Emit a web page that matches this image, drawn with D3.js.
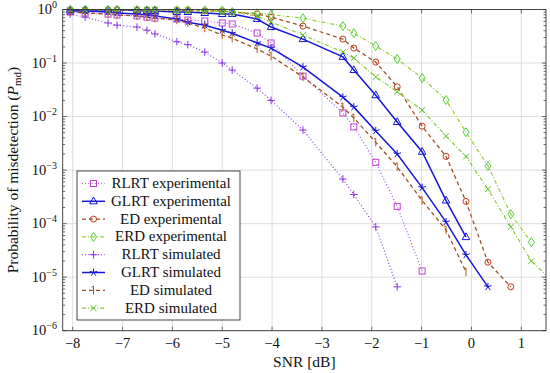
<!DOCTYPE html>
<html>
<head>
<meta charset="utf-8">
<script src="https://cdn.jsdelivr.net/npm/d3@7"></script>
<style>
  body { margin: 0; background: #fff; }
  text { font-family: "Liberation Serif", "DejaVu Serif", serif; fill: #111; }
</style>
</head>
<body>
<svg id="chart" width="550" height="373"></svg>
<script>
// SNR points (dB) where the curves were measured / simulated
const snr = [-8.05, -7.75, -7.29, -7.11, -6.71, -6.51, -6.35, -5.91, -5.69, -5.35, -5.0, -4.8,
             -4.3, -4.02, -3.38, -2.58, -2.36, -1.92, -1.49, -0.99, -0.51, -0.11, 0.33, 0.79, 1.2, 1.65];

// probability of misdetection per detector
const rlrtExp = [0.90, 0.86, 0.82, 0.79, 0.76, 0.72, 0.69, 0.665, 0.636, 0.61, 0.56, 0.536,
                 0.364, 0.237, 0.057, 0.0117, 0.0064, 0.0014, 2.1e-4, 1.3e-5];
const glrtExp = [0.98, 0.98, 0.98, 0.98, 0.957, 0.937, 0.937, 0.898, 0.898, 0.86, 0.824, 0.824,
                 0.665, 0.47, 0.28, 0.13, 0.074, 0.025, 0.0079, 0.0022, 2.7e-4, 5.6e-5];
const edExp   = [0.99, 0.99, 0.99, 0.99, 0.98, 0.98, 0.98, 0.96, 0.96, 0.94, 0.937, 0.898,
                 0.824, 0.72, 0.49, 0.28, 0.19, 0.104, 0.036, 0.0066, 0.0018, 2.6e-4, 1.9e-5, 6.6e-6];
const erdExp  = [0.99, 0.99, 0.99, 0.99, 0.99, 0.99, 0.99, 0.99, 0.99, 0.98, 0.96, 0.90,
                 0.85, 0.80, 0.69, 0.49, 0.36, 0.208, 0.119, 0.0525, 0.0204, 0.0051, 0.0012, 1.5e-4, 4.5e-5];
const rlrtSim = [0.82, 0.72, 0.56, 0.51, 0.47, 0.41, 0.35, 0.25, 0.22, 0.16, 0.10, 0.074,
                 0.034, 0.020, 0.0056, 6.8e-4, 3.5e-4, 8.7e-5, 6.6e-6];
const glrtSim = [0.94, 0.94, 0.90, 0.86, 0.82, 0.79, 0.76, 0.665, 0.58, 0.51, 0.41, 0.36,
                 0.237, 0.19, 0.084, 0.023, 0.015, 0.0054, 0.002, 4.7e-4, 1.07e-4, 2.6e-5, 6.6e-6];
const edSim   = [0.898, 0.86, 0.824, 0.79, 0.76, 0.72, 0.69, 0.636, 0.56, 0.45, 0.334, 0.29,
                 0.183, 0.135, 0.055, 0.015, 0.0094, 0.0033, 0.00115, 2.7e-4, 7.6e-5, 1.25e-5];
const erdSim  = [0.99, 0.99, 0.99, 0.99, 0.99, 0.98, 0.98, 0.96, 0.95, 0.94, 0.92, 0.898,
                 0.756, 0.584, 0.334, 0.16, 0.124, 0.055, 0.029, 0.0132, 0.0043, 0.0018, 4.4e-4, 8.7e-5, 2.0e-5, 8e-6];

const xTicks = [-8, -7, -6, -5, -4, -3, -2, -1, 0, 1];
const yExps = [0, -1, -2, -3, -4, -5, -6];

const series = [
  { name: "RLRT experimental", values: rlrtExp, line: "#a650e0", dash: "1,2.2", w: 1.2, mark: "square", mc: "#c040d0" },
  { name: "GLRT experimental", values: glrtExp, line: "#1616d8", dash: null, w: 1.5, mark: "triangle", mc: "#1616d8" },
  { name: "ED experimental", values: edExp, line: "#9a5228", dash: "4,3", w: 1.3, mark: "circle", mc: "#c23a18" },
  { name: "ERD experimental", values: erdExp, line: "#9ccc3a", dash: "4,2,1,2", w: 1.2, mark: "diamond", mc: "#4fd23a" },
  { name: "RLRT simulated", values: rlrtSim, line: "#8a40e6", dash: "1,2.2", w: 1.2, mark: "plus", mc: "#8a34e8" },
  { name: "GLRT simulated", values: glrtSim, line: "#1616d8", dash: null, w: 1.5, mark: "star", mc: "#1616d8" },
  { name: "ED simulated", values: edSim, line: "#9a5228", dash: "4,3", w: 1.3, mark: "bar", mc: "#b05a1c" },
  { name: "ERD simulated", values: erdSim, line: "#8cc83c", dash: "4,2,1,2", w: 1.2, mark: "cross", mc: "#62c030" }
];

const svg = d3.select("#chart");
const margin = { top: 9.5, right: 4, bottom: 42.3, left: 62.7 };
const W = 550, H = 373;
const x = d3.scaleLinear().domain([-8.2, 1.495]).range([margin.left, W - margin.right]);
const y = d3.scaleLog().domain([1e-6, 1]).range([H - margin.bottom, margin.top]);
const x0 = x.range()[0], x1 = x.range()[1], y0 = y.range()[0], y1 = y.range()[1];

// grid
const grid = svg.append("g").attr("stroke", "#d6d6d6").attr("stroke-width", 0.8);
xTicks.forEach(t => grid.append("line").attr("x1", x(t)).attr("x2", x(t)).attr("y1", y1).attr("y2", y0));
yExps.forEach(e => grid.append("line").attr("x1", x0).attr("x2", x1).attr("y1", y(Math.pow(10, e))).attr("y2", y(Math.pow(10, e))));

// ticks
const ticks = svg.append("g").attr("stroke", "#333").attr("stroke-width", 0.7);
xTicks.forEach(t => {
  ticks.append("line").attr("x1", x(t)).attr("x2", x(t)).attr("y1", y0).attr("y2", y0 - 4);
  ticks.append("line").attr("x1", x(t)).attr("x2", x(t)).attr("y1", y1).attr("y2", y1 + 4);
});
yExps.forEach(e => {
  const yy = y(Math.pow(10, e));
  ticks.append("line").attr("x1", x0).attr("x2", x0 + 4).attr("y1", yy).attr("y2", yy);
  ticks.append("line").attr("x1", x1).attr("x2", x1 - 4).attr("y1", yy).attr("y2", yy);
  if (e < 0) {
    for (let m = 2; m <= 9; m++) {
      const ym = y(m * Math.pow(10, e));
      ticks.append("line").attr("x1", x0).attr("x2", x0 + 2.5).attr("y1", ym).attr("y2", ym);
      ticks.append("line").attr("x1", x1).attr("x2", x1 - 2.5).attr("y1", ym).attr("y2", ym);
    }
  }
});

// curves
svg.append("clipPath").attr("id", "plotclip").append("rect")
  .attr("x", x0).attr("y", y1 - 4).attr("width", x1 - x0).attr("height", y0 - y1 + 4);
const plot = svg.append("g").attr("clip-path", "url(#plotclip)");

const line = d3.line().x(d => x(d[0])).y(d => y(d[1]));

function drawMark(g, type, color) {
  g.attr("stroke", color).attr("fill", "none").attr("stroke-width", 1);
  if (type === "square") g.append("rect").attr("x", -3).attr("y", -3).attr("width", 6).attr("height", 6);
  else if (type === "triangle") g.append("path").attr("d", "M0,-4.3L3.8,2.5L-3.8,2.5Z");
  else if (type === "circle") g.append("circle").attr("r", 3);
  else if (type === "diamond") g.append("path").attr("d", "M0,-4.5L3,0L0,4.5L-3,0Z");
  else if (type === "plus") g.append("path").attr("d", "M-3.8,0H3.8M0,-3.8V3.8");
  else if (type === "cross") g.append("path").attr("d", "M-3,-3L3,3M-3,3L3,-3");
  else if (type === "bar") g.append("path").attr("d", "M0,-4.2V4.2M0,-4.2L-2,-3");
  else if (type === "star") {
    let d = "";
    for (let k = 0; k < 5; k++) {
      const a = -Math.PI / 2 + k * 2 * Math.PI / 5;
      d += "M0,0L" + (4 * Math.cos(a)).toFixed(2) + "," + (4 * Math.sin(a)).toFixed(2);
    }
    g.append("path").attr("d", d);
  }
}

series.forEach(s => {
  const pts = s.values.map((v, i) => [snr[i], v]);
  plot.append("path").datum(pts)
    .attr("d", line).attr("fill", "none")
    .attr("stroke", s.line).attr("stroke-width", s.w)
    .attr("stroke-dasharray", s.dash);
  s.pts = pts;
});
series.forEach(s => {
  s.pts.forEach(p => {
    if (p[0] > 1.5) return;
    const g = plot.append("g").attr("transform", "translate(" + x(p[0]) + "," + y(p[1]) + ")");
    drawMark(g, s.mark, s.mc);
  });
});

// frame
svg.append("rect").attr("x", x0).attr("y", y1).attr("width", x1 - x0).attr("height", y0 - y1)
  .attr("fill", "none").attr("stroke", "#333").attr("stroke-width", 0.9);

// tick labels
xTicks.forEach(t => {
  svg.append("text").attr("x", x(t)).attr("y", 348).attr("text-anchor", "middle")
    .attr("font-size", 14.5).text(t < 0 ? "\u2212" + Math.abs(t) : String(t));
});
yExps.forEach(e => {
  const txt = svg.append("text").attr("x", 57).attr("y", y(Math.pow(10, e)) + 4.5)
    .attr("text-anchor", "end").attr("font-size", 14.5);
  txt.append("tspan").text("10");
  txt.append("tspan").attr("dy", -6).attr("font-size", 10).text(e < 0 ? "\u2212" + Math.abs(e) : "0");
});

// axis titles
svg.append("text").attr("x", (x0 + x1) / 2).attr("y", 367).attr("text-anchor", "middle")
  .attr("font-size", 15.5).text("SNR [dB]");
const yt = svg.append("text").attr("transform", "translate(18," + ((y0 + y1) / 2) + ") rotate(-90)")
  .attr("text-anchor", "middle").attr("font-size", 15.5);
yt.append("tspan").text("Probability of misdetection (");
yt.append("tspan").attr("font-style", "italic").text("P");
yt.append("tspan").attr("dy", 2.5).attr("font-size", 11).text("md");
yt.append("tspan").attr("dy", -2.5).text(")");

// legend
const lg = svg.append("g");
lg.append("rect").attr("x", 77).attr("y", 171).attr("width", 163).attr("height", 149)
  .attr("fill", "#fff").attr("stroke", "#333").attr("stroke-width", 0.9);
series.forEach((s, i) => {
  const cy = 183.5 + i * 17.8;
  lg.append("line").attr("x1", 82).attr("x2", 105).attr("y1", cy).attr("y2", cy)
    .attr("stroke", s.line).attr("stroke-width", s.w).attr("stroke-dasharray", s.dash);
  drawMark(lg.append("g").attr("transform", "translate(93.5," + cy + ")"), s.mark, s.mc);
  lg.append("text").attr("x", 171).attr("y", cy + 4.5).attr("text-anchor", "middle")
    .attr("font-size", 15).text(s.name);
});
</script>
</body>
</html>
